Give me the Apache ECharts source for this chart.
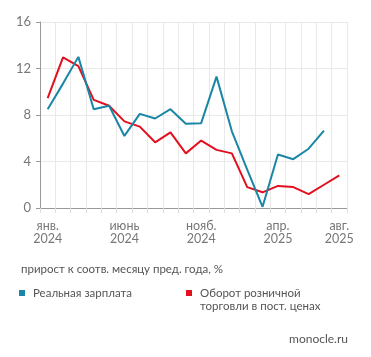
<!DOCTYPE html>
<html><head><meta charset="utf-8">
<script src="https://cdn.jsdelivr.net/npm/echarts@6/dist/echarts.min.js"></script>
<style>html,body{margin:0;padding:0;background:#fff}#c{width:371px;height:357px}</style>
</head><body><div id="c"></div>
<script>
var categories = ['янв.\n2024','фев.\n2024','март\n2024','апр.\n2024','май\n2024','июнь\n2024','июль\n2024','авг.\n2024','сент.\n2024','окт.\n2024','нояб.\n2024','дек.\n2024','янв.\n2025','фев.\n2025','март\n2025','апр.\n2025','май\n2025','июнь\n2025','июль\n2025','авг.\n2025'];
var shownLabels = [0,5,10,15,19];
var realWage = [8.5,10.7,13.0,8.5,8.8,6.2,8.1,7.7,8.5,7.25,7.3,11.3,6.6,3.3,0.1,4.6,4.2,5.1,6.65,null];
var retail = [9.45,12.95,12.2,9.3,8.8,7.45,7.0,5.65,6.5,4.7,5.8,5.0,4.7,1.8,1.35,1.9,1.8,1.2,2.0,2.8];
var yTicks = {min:0,max:16,interval:4};
var nameWage = 'Реальная зарплата';
var nameRetail = 'Оборот розничной\nторговли в пост. ценах';
var subtitle = 'прирост к соотв. месяцу пред. года, %';
var source = 'monocle.ru';

var FONT = 'Lato, sans-serif';
var C_WAGE = '#1a86a6', C_RETAIL = '#e2101e';
var chart = echarts.init(document.getElementById('c'));
chart.setOption({
  animation:false,
  textStyle:{fontFamily:FONT},
  grid:{left:40,right:24,top:22,bottom:149,containLabel:false},
  title:[
    {text:subtitle,left:16,top:258,textStyle:{fontSize:11.5,fontWeight:'normal',color:'#555',fontFamily:FONT}},
    {text:source,right:18,top:328,textStyle:{fontSize:12,fontWeight:'normal',color:'#555',fontFamily:FONT}}
  ],
  legend:{show:false,data:[nameWage,nameRetail]},
  graphic:[
    {type:'rect',left:19,top:290,shape:{width:6,height:6},style:{fill:C_WAGE}},
    {type:'text',left:33,top:287,style:{text:nameWage,fill:'#555',font:'11.5px '+FONT,lineHeight:13}},
    {type:'rect',left:186,top:290,shape:{width:6,height:6},style:{fill:C_RETAIL}},
    {type:'text',left:200,top:287,style:{text:nameRetail,fill:'#555',font:'11.5px '+FONT,lineHeight:13}}
  ],
  xAxis:{type:'category',data:categories,boundaryGap:true,
    axisLine:{lineStyle:{color:'#999',width:1}},
    axisTick:{show:true,length:5,interval:0,lineStyle:{color:'#ddd'}},
    splitLine:{show:true,interval:0,lineStyle:{color:'#e9e9e9',width:1}},
    axisLabel:{interval:function(i){return shownLabels.indexOf(i)>=0;},color:'#777',fontSize:12.5,lineHeight:13,margin:11,fontFamily:FONT}
  },
  yAxis:{type:'value',min:yTicks.min,max:yTicks.max,interval:yTicks.interval,
    axisLine:{show:true,lineStyle:{color:'#999',width:1}},
    axisTick:{show:true,length:4,lineStyle:{color:'#999'}},
    splitLine:{lineStyle:{color:'#e9e9e9',width:1}},
    axisLabel:{color:'#777',fontSize:13,margin:9,fontFamily:FONT}
  },
  series:[
    {name:nameWage,type:'line',data:realWage,symbol:'none',lineStyle:{width:2,color:C_WAGE},itemStyle:{color:C_WAGE},z:3},
    {name:nameRetail,type:'line',data:retail,symbol:'none',lineStyle:{width:2,color:C_RETAIL},itemStyle:{color:C_RETAIL},z:2}
  ]
});
</script></body></html>
